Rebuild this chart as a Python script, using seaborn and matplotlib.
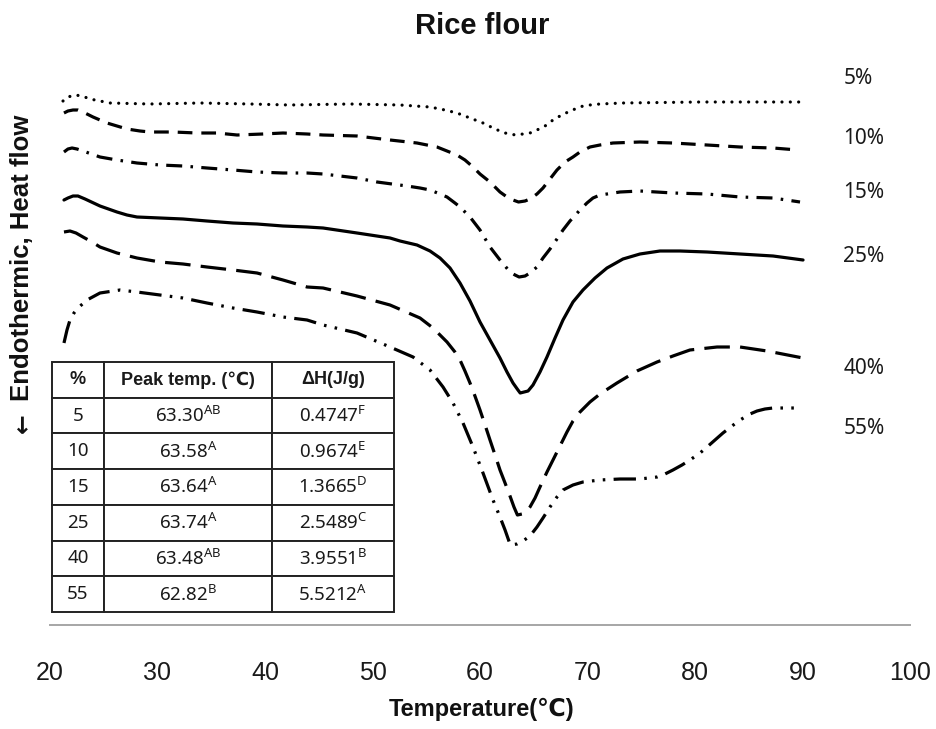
import matplotlib
matplotlib.use("Agg")
import matplotlib.pyplot as plt
import seaborn as sns

# DSC thermograms of rice flour at different solid concentrations
# Temperature (°C) and heat flow (arbitrary offset units, endothermic down)
t_05 = [21.21, 21.67, 22.33, 22.98, 23.72, 24.65, 25.58, 29.30, 34.00, 38.60, 42.30, 47.90,
        52.56, 55.35, 56.74, 57.86, 59.07, 60.28, 61.40, 62.33, 63.30, 64.00, 64.65, 65.30,
        66.05, 66.79, 67.44, 68.19, 68.84, 69.58, 70.23, 71.16, 73.30, 80.50, 90.00]
hf_05 = [5.24, 5.28, 5.30, 5.29, 5.26, 5.24, 5.22, 5.21, 5.22, 5.21, 5.20, 5.21,
         5.20, 5.18, 5.15, 5.12, 5.07, 5.02, 4.96, 4.92, 4.90, 4.91, 4.92, 4.95,
         4.99, 5.05, 5.09, 5.13, 5.16, 5.19, 5.20, 5.21, 5.22, 5.23, 5.23]

t_10 = [21.30, 21.67, 22.14, 22.60, 23.07, 24.00, 25.30, 26.23, 27.16, 28.37, 29.30, 31.44,
        33.67, 35.53, 37.40, 39.81, 41.67, 43.91, 45.40, 48.56, 51.63, 54.14, 56.00, 56.93,
        57.86, 58.60, 59.35, 60.00, 60.93, 61.86, 62.51, 63.07, 63.58, 64.19, 64.65, 65.30,
        65.86, 66.51, 67.16, 67.91, 68.65, 69.30, 70.23, 71.16, 72.37, 74.88, 77.95, 81.12,
        84.19, 87.26, 89.58]
hf_10 = [5.12, 5.14, 5.15, 5.15, 5.13, 5.08, 5.02, 4.99, 4.96, 4.94, 4.93, 4.93,
         4.92, 4.92, 4.90, 4.91, 4.92, 4.91, 4.90, 4.89, 4.85, 4.82, 4.78, 4.74,
         4.70, 4.65, 4.58, 4.51, 4.43, 4.33, 4.28, 4.25, 4.23, 4.24, 4.26, 4.31,
         4.37, 4.46, 4.55, 4.63, 4.68, 4.73, 4.78, 4.80, 4.82, 4.83, 4.82, 4.80,
         4.78, 4.77, 4.75]

t_15 = [21.30, 21.67, 22.05, 22.51, 23.07, 24.65, 26.23, 28.09, 30.23, 32.37, 34.60, 37.02,
        39.26, 41.67, 43.91, 45.40, 48.56, 50.42, 53.21, 54.42, 55.35, 56.28, 56.93, 57.67,
        58.14, 59.07, 60.00, 60.93, 61.86, 62.33, 62.79, 63.26, 63.64, 64.19, 64.65, 65.30,
        65.86, 66.51, 67.16, 67.72, 68.37, 69.30, 69.95, 70.51, 71.16, 71.81, 73.02, 74.88,
        77.95, 81.12, 84.19, 87.26, 89.77]
hf_15 = [4.73, 4.76, 4.77, 4.76, 4.74, 4.68, 4.65, 4.62, 4.60, 4.59, 4.57, 4.55,
         4.53, 4.52, 4.52, 4.51, 4.47, 4.43, 4.39, 4.37, 4.35, 4.31, 4.28, 4.22,
         4.18, 4.08, 3.95, 3.78, 3.65, 3.59, 3.53, 3.50, 3.48, 3.49, 3.52, 3.58,
         3.67, 3.76, 3.86, 3.95, 4.04, 4.15, 4.22, 4.27, 4.30, 4.31, 4.33, 4.34,
         4.32, 4.31, 4.28, 4.27, 4.23]

t_25 = [21.30, 21.67, 22.14, 22.60, 23.26, 24.65, 26.23, 27.16, 28.09, 30.23, 32.37, 34.60,
        37.02, 39.26, 41.67, 43.91, 45.40, 48.56, 51.63, 52.56, 54.14, 55.35, 56.28, 57.21,
        58.14, 59.07, 60.00, 60.93, 61.86, 62.51, 63.07, 63.53, 63.74, 64.47, 64.93, 65.58,
        66.23, 66.98, 67.72, 68.65, 69.58, 70.70, 71.81, 73.30, 74.88, 76.74, 78.60, 81.12,
        84.19, 87.26, 90.05]
hf_25 = [4.25, 4.27, 4.29, 4.29, 4.26, 4.19, 4.13, 4.10, 4.08, 4.07, 4.06, 4.04,
         4.02, 4.01, 3.99, 3.98, 3.97, 3.92, 3.87, 3.84, 3.80, 3.74, 3.67, 3.57,
         3.42, 3.24, 3.03, 2.85, 2.67, 2.53, 2.42, 2.35, 2.32, 2.34, 2.40, 2.53,
         2.68, 2.87, 3.05, 3.23, 3.35, 3.47, 3.57, 3.66, 3.71, 3.74, 3.74, 3.73,
         3.71, 3.69, 3.65]

t_40 = [21.30, 21.86, 22.42, 23.07, 23.91, 24.65, 26.23, 28.09, 30.23, 32.37, 34.60, 37.02,
        39.26, 41.67, 43.91, 45.40, 48.56, 51.63, 54.42, 55.63, 56.93, 57.67, 58.14, 58.60,
        59.07, 59.53, 60.00, 60.47, 60.93, 61.40, 61.86, 62.33, 62.79, 63.16, 63.48, 63.91,
        64.28, 64.65, 65.12, 65.58, 66.23, 66.79, 67.44, 68.09, 68.65, 69.30, 70.23, 71.16,
        72.74, 74.60, 76.47, 77.95, 79.53, 82.05, 84.19, 86.70, 90.05]
hf_40 = [3.93, 3.94, 3.92, 3.88, 3.83, 3.78, 3.72, 3.67, 3.63, 3.61, 3.58, 3.55,
         3.52, 3.45, 3.38, 3.37, 3.29, 3.20, 3.07, 2.97, 2.83, 2.73, 2.65, 2.54,
         2.42, 2.29, 2.15, 2.00, 1.85, 1.70, 1.55, 1.42, 1.29, 1.18, 1.10, 1.11,
         1.13, 1.18, 1.27, 1.38, 1.53, 1.65, 1.79, 1.93, 2.04, 2.13, 2.23, 2.31,
         2.42, 2.54, 2.63, 2.69, 2.75, 2.78, 2.78, 2.74, 2.67]

t_55 = [21.30, 21.58, 21.86, 22.23, 22.60, 23.44, 24.65, 26.51, 28.09, 30.23, 32.37, 34.60,
        37.02, 39.26, 41.67, 43.91, 45.40, 48.56, 51.63, 53.77, 55.35, 56.56, 57.49, 58.42,
        59.35, 60.28, 61.21, 61.86, 62.33, 62.82, 63.44, 64.00, 64.65, 65.30, 65.86, 66.51,
        67.16, 67.72, 68.65, 69.58, 71.16, 73.02, 74.88, 76.47, 77.21, 77.95, 78.79, 79.53,
        80.47, 81.12, 81.86, 82.60, 83.44, 84.19, 85.12, 85.77, 86.51, 87.26, 89.30]
hf_55 = [2.82, 2.95, 3.05, 3.12, 3.17, 3.25, 3.32, 3.35, 3.33, 3.30, 3.27, 3.22,
         3.17, 3.13, 3.08, 3.05, 3.00, 2.92, 2.78, 2.68, 2.55, 2.38, 2.22, 2.02,
         1.78, 1.52, 1.25, 1.08, 0.95, 0.80, 0.81, 0.84, 0.89, 0.98, 1.07, 1.18,
         1.28, 1.35, 1.40, 1.43, 1.45, 1.46, 1.46, 1.48, 1.51, 1.55, 1.60, 1.65,
         1.72, 1.78, 1.85, 1.92, 1.99, 2.05, 2.11, 2.14, 2.16, 2.17, 2.17]

labels = ["5%", "10%", "15%", "25%", "40%", "55%"]
label_y = [5.46, 4.87, 4.32, 3.68, 2.57, 1.97]

# Summary table
conc = ["5", "10", "15", "25", "40", "55"]
peak_temp = ["63.30", "63.58", "63.64", "63.74", "63.48", "62.82"]
peak_sig = ["AB", "A", "A", "A", "AB", "B"]
enthalpy = ["0.4747", "0.9674", "1.3665", "2.5489", "3.9551", "5.5212"]
enth_sig = ["F", "E", "D", "C", "B", "A"]

sns.set_theme(style="white")
plt.rcParams["font.family"] = ["Noto Sans", "DejaVu Sans"]
BOLD = ["Liberation Sans", "DejaVu Sans"]

fig = plt.figure(figsize=(9.36, 7.29), dpi=100)
ax = fig.add_axes([50 / 936, 104 / 729, 860 / 936, 565 / 729])

series = [
    (t_05, hf_05, (0, (0.01, 2.6)), "round"),
    (t_10, hf_10, (0, (4.6, 2.8)), "butt"),
    (t_15, hf_15, (0, (5.0, 2.6, 0.8, 2.6)), "butt"),
    (t_25, hf_25, "-", "butt"),
    (t_40, hf_40, (0, (8.0, 3.2)), "butt"),
    (t_55, hf_55, (0, (7.0, 2.6, 0.8, 2.6, 0.8, 2.6)), "butt"),
]
for t, hf, ls, cap in series:
    sns.lineplot(x=t, y=hf, ax=ax, color="black", linewidth=2.3, linestyle=ls,
                 sort=False, estimator=None, dash_capstyle=cap,
                 solid_joinstyle="round")

for lab, yv in zip(labels, label_y):
    ax.text(93.8, yv, lab, ha="left", va="center", fontsize=15, color="#1a1a1a",
            clip_on=False)

ax.set_xlim(20, 100)
ax.set_ylim(0, 5.65)
ax.set_xticks(range(20, 101, 10))
ax.set_yticks([])
ax.set_xlabel("")
ax.set_ylabel("")
for s in ["left", "top", "right"]:
    ax.spines[s].set_visible(False)
ax.spines["bottom"].set_color("#a6a6a6")
ax.spines["bottom"].set_linewidth(1.4)
ax.tick_params(axis="x", length=0, pad=26, labelsize=18, colors="#1a1a1a")
for tl in ax.get_xticklabels():
    tl.set_fontfamily(["Liberation Sans", "DejaVu Sans"])

fig.text(482 / 936, 1 - 26 / 729, "Rice flour", ha="center", va="center",
         fontsize=21, fontweight="bold", color="#111111", family=BOLD)
fig.text(482 / 936, 1 - 709 / 729, "Temperature(\u2103)", ha="center", va="center",
         fontsize=17, fontweight="bold", color="#111111", family=BOLD)
# Vertical axis caption with a direction arrow below it
fig.text(22 / 936, 1 - 258 / 729, "Endothermic, Heat flow", ha="center",
         va="center", rotation=90, fontsize=18.5, fontweight="bold", color="#111111",
         family=BOLD)
fig.text(22 / 936, 1 - 423 / 729, "\u2190", ha="center", va="center", rotation=90,
         fontsize=17, fontweight="bold", color="#111111", family=["DejaVu Sans"])

# Table of peak temperature and enthalpy
cells = [[c, f"{p}$^{{\\mathregular{{{ps}}}}}$", f"{e}$^{{\\mathregular{{{es}}}}}$"]
         for c, p, ps, e, es in zip(conc, peak_temp, peak_sig, enthalpy, enth_sig)]
tbl = ax.table(cellText=cells, colLabels=["%", "Peak temp. (\u2103)", "\u0394H(J/g)"],
               colWidths=[0.152, 0.491, 0.357], cellLoc="center",
               bbox=[2 / 860, 13 / 565, 342 / 860, 250 / 565])
tbl.auto_set_font_size(False)
tbl.set_fontsize(13.5)
tbl.set_zorder(5)
for (r, c), cell in tbl.get_celld().items():
    cell.set_edgecolor("#222222")
    cell.set_linewidth(1.4)
    cell.set_facecolor("white")
    txt = cell.get_text()
    txt.set_color("#1a1a1a")
    if r == 0:
        txt.set_fontweight("bold")
        txt.set_fontfamily(BOLD)
        txt.set_fontsize(13)

fig.savefig("out.png", dpi=100)
